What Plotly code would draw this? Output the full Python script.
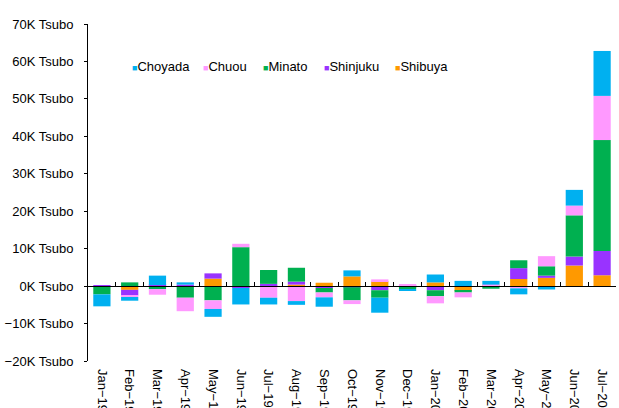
import plotly.graph_objects as go

# Monthly net absorption by ward, in thousands of tsubo
months = ["Jan\u221219", "Feb\u221219", "Mar\u221219", "Apr\u221219", "May\u221219", "Jun\u221219",
          "Jul\u221219", "Aug\u221219", "Sep\u221219", "Oct\u221219", "Nov\u221219", "Dec\u221219",
          "Jan\u221220", "Feb\u221220", "Mar\u221220", "Apr\u221220", "May\u221220", "Jun\u221220",
          "Jul\u221220"]

choyada  = [-3.2, -1.0, 2.5, 0.6, -2.1, -4.4, -1.8, -1.0, -2.5, 1.6, -4.0, -0.4, 2.1, 1.4, 1.0, -1.6, -0.9, 4.2, 12.0]
chuou    = [0.0, -0.4, -1.5, -3.6, -2.3, 0.9, -3.1, -4.0, -1.3, -1.0, 0.5, 0.3, -1.9, -1.3, 0.3, -0.6, 2.7, 2.6, 11.8]
minato   = [-2.2, 1.0, -0.8, -3.1, -3.8, 10.4, 3.7, 3.7, -1.2, -3.5, -2.0, -0.4, -1.6, -0.4, -0.5, 2.1, 2.5, 11.0, 29.6]
shinjuku = [0.3, -1.5, 0.2, 0.4, 1.4, -0.2, 0.5, 0.8, -0.5, -0.3, -1.1, 0.1, -1.1, 0.0, -0.2, 2.9, 0.6, 2.4, 6.5]
shibuya  = [0.0, -1.0, 0.1, 0.0, 2.0, -0.3, 0.1, 0.4, 0.9, 2.6, 1.3, -0.4, 1.0, -1.3, 0.1, 1.9, 2.2, 5.5, 2.9]

y_ticks = [-20, -10, 0, 10, 20, 30, 40, 50, 60, 70]
y_labels = [f"{v}K Tsubo".replace("-", "\u2212") for v in y_ticks]

# Stack order from the zero line outward
series = [
    ("Shibuya", shibuya, "#FF9900"),
    ("Shinjuku", shinjuku, "#9933FF"),
    ("Minato", minato, "#00B050"),
    ("Chuou", chuou, "#FF99FF"),
    ("Choyada", choyada, "#00B0F0"),
]

FONT = "Liberation Sans, Arial, sans-serif"
W, H = 619, 408
ML, MR, MT, MB = 88, 3, 24, 47

n = len(months)
idx = list(range(n))                       # slot index of each month
boundaries = [i - 0.5 for i in range(n + 1)]  # slot edges for the tick marks

fig = go.Figure()
for name, vals, color in series:
    fig.add_trace(go.Bar(x=idx, y=vals, name=name, marker_color=color,
                         marker_line_width=0, showlegend=False,
                         customdata=months, hovertemplate="%{customdata}: %{y}K<extra>" + name + "</extra>"))

# carrier for the bottom month-label axis
fig.add_trace(go.Scatter(x=months, y=[0] * n, xaxis="x2", mode="markers",
                         marker=dict(opacity=0), hoverinfo="skip", showlegend=False))

zero_pos = (0 - y_ticks[0]) / (y_ticks[-1] - y_ticks[0])

fig.update_layout(
    width=W, height=H,
    margin=dict(l=ML, r=MR, t=MT, b=MB, autoexpand=False),
    barmode="relative", bargap=0.38,
    paper_bgcolor="white", plot_bgcolor="white",
    font=dict(family=FONT, size=13, color="black"),
    # axis running along the zero line, ticks on the slot edges
    xaxis=dict(range=[-0.5, n - 0.5], anchor="free", position=zero_pos,
               showline=True, linecolor="black", linewidth=1,
               tickmode="array", tickvals=boundaries, ticks="inside", ticklen=4,
               tickcolor="black", showticklabels=False, showgrid=False,
               zeroline=False, automargin=False),
    # month labels at the bottom of the plot
    xaxis2=dict(type="category", categoryarray=months, range=[-0.5, n - 0.5],
                overlaying="x", anchor="y", side="bottom", showline=False, ticks="",
                tickangle=90, showgrid=False, zeroline=False, automargin=False,
                ticklabelstandoff=7, tickfont=dict(size=13)),
    yaxis=dict(range=[y_ticks[0], y_ticks[-1]], tickvals=y_ticks, ticktext=y_labels,
               showline=True, linecolor="black", linewidth=1, ticks="outside",
               ticklen=3, tickcolor="black", showgrid=False, zeroline=False,
               automargin=False, ticklabelstandoff=8),
)

# legend row drawn as text entries with colour keys
legend_order = ["Choyada", "Chuou", "Minato", "Shinjuku", "Shibuya"]
legend_px = [130, 201, 261, 322, 393]
colors = {nm: c for nm, _, c in series}
plot_w = W - ML - MR
plot_h = H - MT - MB
for name, px in zip(legend_order, legend_px):
    fig.add_annotation(
        x=(px - ML) / plot_w, y=(H - MB - 67) / plot_h, xref="paper", yref="paper",
        xanchor="left", yanchor="middle", showarrow=False,
        text=f'<span style="color:{colors[name]};font-size:9px">■</span>{name}',
        font=dict(family=FONT, size=13, color="black"),
    )

fig.write_html("out.html")
